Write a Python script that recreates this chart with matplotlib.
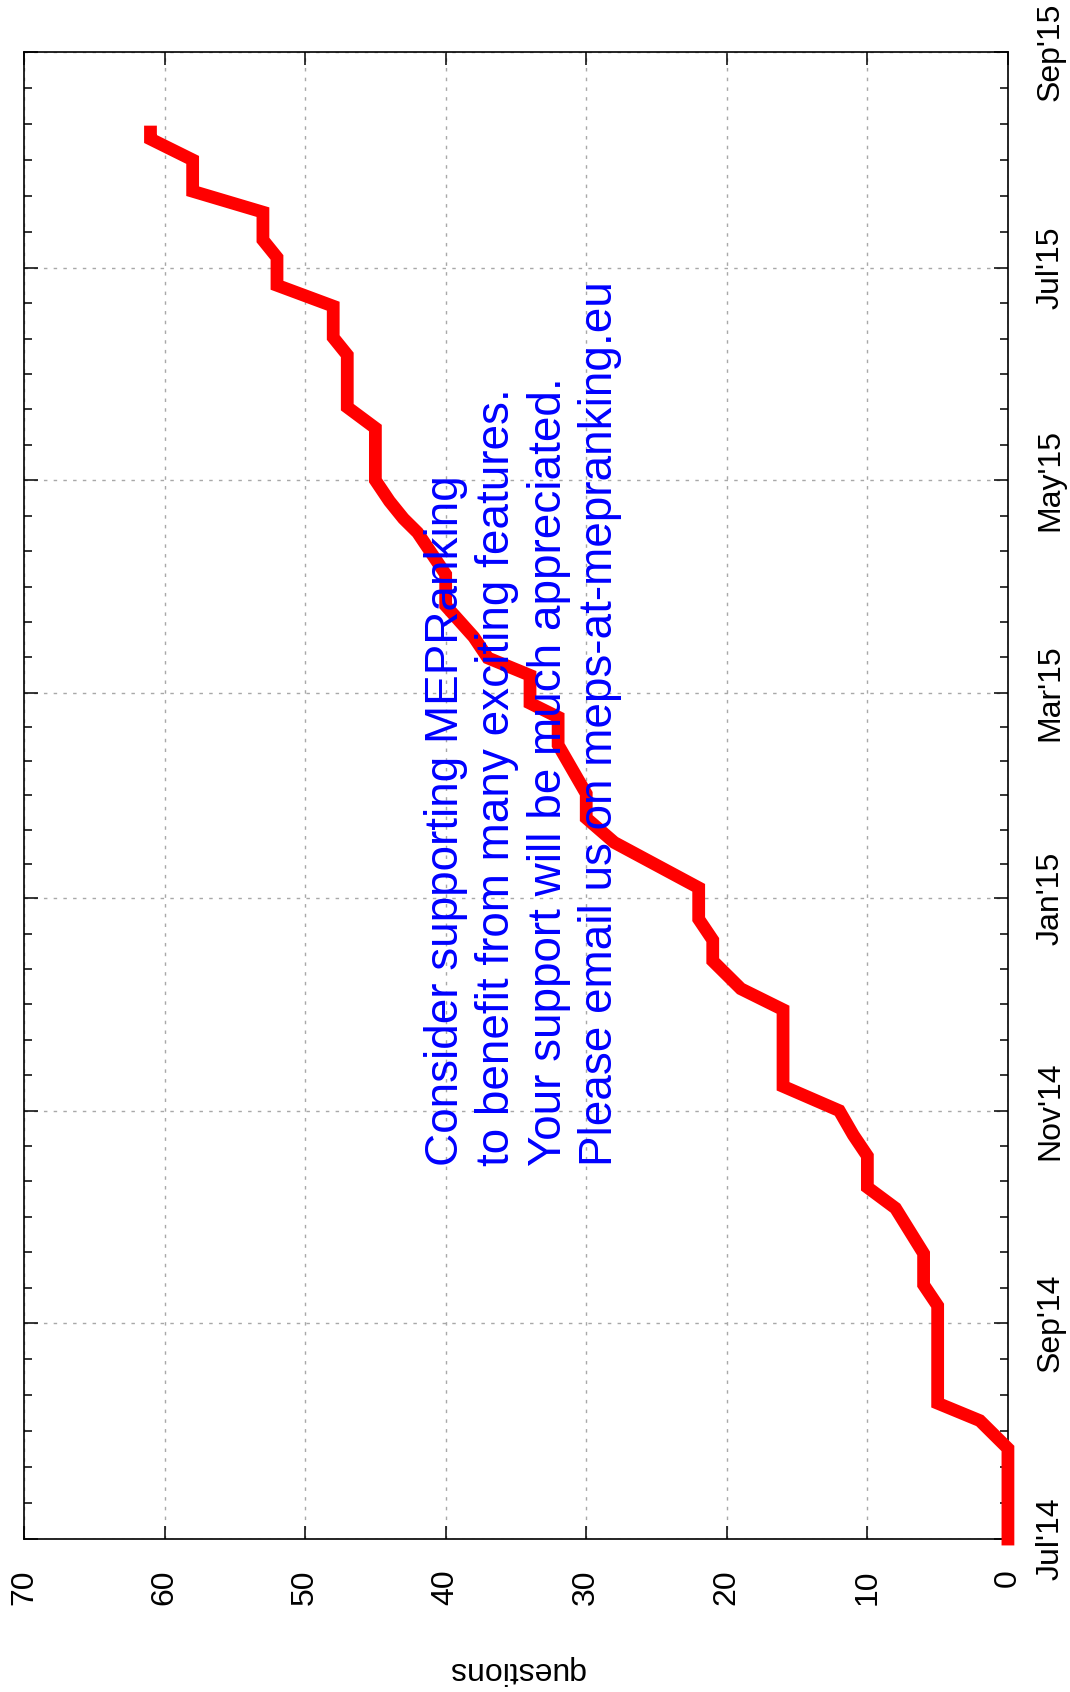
import matplotlib
matplotlib.use('Agg')
import matplotlib.pyplot as plt
import matplotlib.dates as mdates
import numpy as np
from datetime import datetime

# cumulative number of questions
dates = ['2014-07-01', '2014-07-27', '2014-08-04', '2014-08-09', '2014-09-06',
         '2014-09-12', '2014-09-21', '2014-10-04', '2014-10-10', '2014-10-19',
         '2014-10-25', '2014-11-01', '2014-11-08', '2014-11-30', '2014-12-06',
         '2014-12-10', '2014-12-14', '2014-12-20', '2014-12-26', '2015-01-04',
         '2015-01-17', '2015-01-24', '2015-01-31', '2015-02-14', '2015-02-22',
         '2015-02-26', '2015-03-06', '2015-03-11', '2015-03-17', '2015-03-26',
         '2015-04-04', '2015-04-10', '2015-04-16', '2015-04-20', '2015-04-25',
         '2015-05-01', '2015-05-16', '2015-05-22', '2015-06-06', '2015-06-11',
         '2015-06-20', '2015-06-26', '2015-07-04', '2015-07-09', '2015-07-17',
         '2015-07-23', '2015-08-01', '2015-08-07', '2015-08-09']
questions = [0, 0, 2, 5, 5,
             6, 6, 8, 10, 10,
             11, 12, 16, 16, 19,
             20, 21, 21, 22, 22,
             28, 30, 30, 32, 32,
             34, 34, 37, 38, 40,
             40, 41, 42, 43, 44,
             45, 45, 47, 47, 48,
             48, 52, 52, 53, 53,
             58, 58, 61, 61]

q_ticks = [0, 10, 20, 30, 40, 50, 60, 70]
month_ticks = ['2014-07-01', '2014-09-01', '2014-11-01', '2015-01-01',
               '2015-03-01', '2015-05-01', '2015-07-01', '2015-09-01']
note = ['Consider supporting MEPRanking',
        'to benefit from many exciting features.',
        'Your support will be much appreciated.',
        'Please email us on meps-at-mepranking.eu']

plt.rcParams['font.family'] = ['Liberation Sans', 'DejaVu Sans']

fig = plt.figure(figsize=(10.7, 16.92), dpi=100)
ax = fig.add_axes([0.0224, 0.0904, 0.9196, 0.8789])

d = [datetime.strptime(s, '%Y-%m-%d') for s in dates]
ax.plot(questions, d, color='#ff0000', lw=9.2, solid_capstyle='projecting',
        solid_joinstyle='miter', clip_on=False, zorder=3)

months = [datetime.strptime(s, '%Y-%m-%d') for s in month_ticks]
mnum = mdates.date2num(months)
minor = []
for a, b in zip(mnum[:-1], mnum[1:]):
    minor += list(np.linspace(a, b, 7)[1:-1])

ax.set_xlim(70, 0)
ax.set_ylim(mnum[0], mnum[-1])
ax.set_xticks(q_ticks)
ax.set_yticks(mnum)
ax.set_yticks(minor, minor=True)
ax.yaxis.set_major_formatter(mdates.DateFormatter("%b'%y"))

ax.tick_params(axis='x', which='major', direction='in', top=True, bottom=True,
               length=9.5, width=1.1, labelsize=23, labelrotation=90, pad=22)
ax.tick_params(axis='y', which='both', direction='in', left=True, right=True,
               labelleft=False, labelright=True, width=1.1)
ax.tick_params(axis='y', which='major', length=10, labelsize=23,
               labelrotation=90, pad=20)
ax.tick_params(axis='y', which='minor', length=5.5)
for lbl in ax.get_yticklabels():
    lbl.set_verticalalignment('center')

for sp in ax.spines.values():
    sp.set_linewidth(1.2)

ax.grid(True, which='major', color='#a8a8a8', linestyle=(0, (2.5, 4.5)), linewidth=1.0)

ax.set_xlabel('questions', fontsize=23, rotation=180, va='center')
ax.xaxis.set_label_coords(0.5, -0.088)

ax.text(0.489, 0.311, '\n'.join(note), transform=fig.transFigure, rotation=90,
        ha='center', va='bottom', multialignment='left', linespacing=1.22,
        fontsize=33, color='#0000ff', zorder=4)

plt.savefig('out.png', dpi=100)
